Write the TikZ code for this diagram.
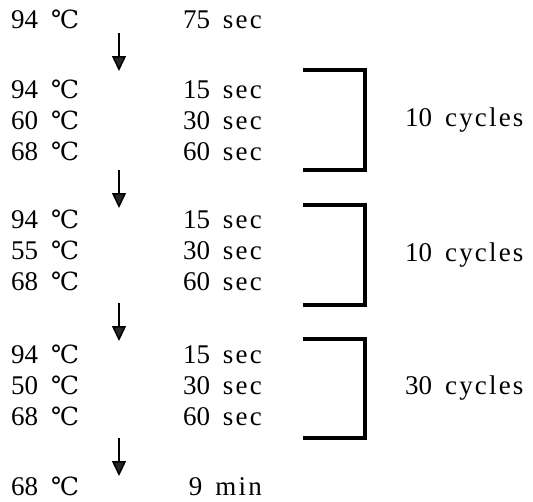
\documentclass[tikz,border=0pt]{standalone}
\usepackage{fontspec}
\usetikzlibrary{arrows.meta}
\newfontfamily\numfont{Liberation Serif}
\newfontfamily\wordfont[LetterSpace=8]{Liberation Serif}
\newfontfamily\degfont{DejaVu Serif}
\newcommand{\dc}{{\degfont\fontsize{25}{25}\selectfont ℃}}
\newcommand{\tm}[2]{{\numfont #1}\hspace{13pt}{\wordfont #2}}
\begin{document}
\begin{tikzpicture}[x=1pt,y=-1pt,
  txt/.style={inner sep=0pt,font=\numfont\fontsize{27}{28}\selectfont},
  temp/.style={txt,anchor=base west},
  dur/.style={txt,anchor=base east},
  cyc/.style={txt,anchor=west},
  flow/.style={line width=1.5pt,-{Triangle[width=14pt,length=15pt,fill=black!85]}},
  brk/.style={line width=3.5pt,line join=miter}]
\useasboundingbox (0,0) rectangle (533,501);
% rows
\foreach \n/\y/\t/\a/\u in {r1/28/94/75/sec, r2/98/94/15/sec, r3/129/60/30/sec, r4/160/68/60/sec,
  r5/228/94/15/sec, r6/259/55/30/sec, r7/290/68/60/sec,
  r8/363/94/15/sec, r9/394/50/30/sec, r10/425/68/60/sec, r11/495/68/9/min}{
  \node[temp] (\n t) at (11,\y) {\t\hspace{13pt}\dc};
  \node[dur] (\n d) at (262,\y) {\tm{\a}{\u}};
}
% arrows
\coordinate (a1s) at (119,33);  \coordinate (a1e) at (119,71);
\coordinate (a2s) at (119,170); \coordinate (a2e) at (119,208);
\coordinate (a3s) at (119,303); \coordinate (a3e) at (119,341);
\coordinate (a4s) at (119,438); \coordinate (a4e) at (119,476);
\foreach \i in {1,...,4}{\draw[flow] (a\i s) -- (a\i e);}
% brackets
\foreach \i/\top/\bot/\n/\lab in {1/70/170/10/cycles, 2/205/305/10/cycles, 3/339/438/30/cycles}{
  \coordinate (b\i a) at (303,\top);
  \coordinate (b\i b) at (365,\top);
  \coordinate (b\i c) at (365,\bot);
  \coordinate (b\i d) at (303,\bot);
  \draw[brk] (b\i a) -- (b\i b) -- (b\i c) -- (b\i d);
  \node[cyc] (c\i) at (405,{(\top+\bot)/2}) {\tm{\n}{\lab}};
}
\end{tikzpicture}
\end{document}
